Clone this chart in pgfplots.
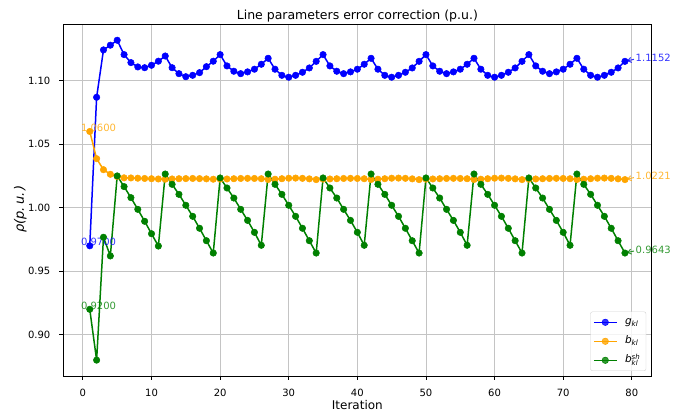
\documentclass[border=0pt]{standalone}
\usepackage{fontspec}
\setmainfont{DejaVu Sans}
\usepackage{pgfplots}
\usepackage{pgfplotstable}
\pgfplotsset{compat=1.18}
\usetikzlibrary{arrows.meta}
\definecolor{mblue}{HTML}{0000FF}
\definecolor{morange}{HTML}{FFA500}
\definecolor{mgreen}{HTML}{008000}
\definecolor{gridgray}{HTML}{C4C4C4}

\pgfplotstableread{
t g b s
1 0.9700 1.0600 0.9200
2 1.0869 1.0386 0.8800
3 1.1242 1.0299 0.9767
4 1.1279 1.0263 0.9620
5 1.1318 1.0245 1.0250
6 1.1205 1.0235 1.0166
7 1.1142 1.0234 1.0079
8 1.1108 1.0232 0.9987
9 1.1102 1.0230 0.9893
10 1.1121 1.0228 0.9795
11 1.1153 1.0226 0.9698
12 1.1194 1.0224 1.0265
13 1.1102 1.0226 1.0184
14 1.1055 1.0228 1.0105
15 1.1031 1.0229 1.0019
16 1.1042 1.0230 0.9932
17 1.1063 1.0229 0.9838
18 1.1110 1.0227 0.9740
19 1.1153 1.0224 0.9643
20 1.1205 1.0225 1.0234
21 1.1116 1.0226 1.0155
22 1.1074 1.0228 1.0076
23 1.1055 1.0230 0.9987
24 1.1069 1.0231 0.9900
25 1.1090 1.0230 0.9806
26 1.1129 1.0228 0.9704
27 1.1176 1.0222 1.0265
28 1.1090 1.0224 1.0184
29 1.1042 1.0228 1.0105
30 1.1027 1.0232 1.0019
31 1.1042 1.0233 0.9932
32 1.1066 1.0231 0.9838
33 1.1100 1.0227 0.9740
34 1.1152 1.0221 0.9643
35 1.1205 1.0225 1.0234
36 1.1116 1.0226 1.0155
37 1.1074 1.0228 1.0076
38 1.1055 1.0230 0.9987
39 1.1069 1.0231 0.9900
40 1.1090 1.0230 0.9806
41 1.1129 1.0228 0.9704
42 1.1176 1.0222 1.0265
43 1.1090 1.0224 1.0184
44 1.1042 1.0228 1.0105
45 1.1027 1.0232 1.0019
46 1.1042 1.0233 0.9932
47 1.1066 1.0231 0.9838
48 1.1100 1.0227 0.9740
49 1.1152 1.0221 0.9643
50 1.1205 1.0225 1.0234
51 1.1116 1.0226 1.0155
52 1.1074 1.0228 1.0076
53 1.1055 1.0230 0.9987
54 1.1069 1.0231 0.9900
55 1.1090 1.0230 0.9806
56 1.1129 1.0228 0.9704
57 1.1176 1.0222 1.0265
58 1.1090 1.0224 1.0184
59 1.1042 1.0228 1.0105
60 1.1027 1.0232 1.0019
61 1.1042 1.0233 0.9932
62 1.1066 1.0231 0.9838
63 1.1100 1.0227 0.9740
64 1.1152 1.0221 0.9643
65 1.1205 1.0225 1.0234
66 1.1116 1.0226 1.0155
67 1.1074 1.0228 1.0076
68 1.1055 1.0230 0.9987
69 1.1069 1.0231 0.9900
70 1.1090 1.0230 0.9806
71 1.1129 1.0228 0.9704
72 1.1176 1.0222 1.0265
73 1.1090 1.0224 1.0184
74 1.1042 1.0228 1.0105
75 1.1027 1.0232 1.0019
76 1.1042 1.0233 0.9932
77 1.1066 1.0231 0.9838
78 1.1100 1.0227 0.9740
79 1.1152 1.0221 0.9643
}\data

\newcommand{\shkl}{{\fontsize{7}{8}\selectfont\rlap{\raisebox{3.6pt}{sh}}\raisebox{-2.6pt}{kl}}}

\begin{document}
\begin{tikzpicture}
\useasboundingbox (-63pt,-39pt) rectangle (633pt,376pt);
\begin{axis}[
  scale only axis,
  clip=false,
  width=588.7pt, height=352pt,
  xmin=-2.9, xmax=82.9,
  ymin=0.8675, ymax=1.1446,
  xtick={0,10,...,80},
  ytick={0.90,0.95,1.00,1.05,1.10},
  yticklabel style={/pgf/number format/fixed, /pgf/number format/fixed zerofill, /pgf/number format/precision=2},
  /pgf/number format/assume math mode=true,
  ticklabel style={font=\fontsize{10}{12}\selectfont, inner sep=0pt},
  xticklabel style={anchor=base, yshift=-17pt},
  yticklabel style={anchor=east, xshift=-9pt},
  tick align=outside,
  tick pos=left,
  major tick length=3.5pt,
  tick style={black, line width=0.8pt},
  axis line style={black, line width=0.8pt},
  grid=major,
  major grid style={gridgray, line width=0.8pt},
  legend style={
    at={(rel axis cs:1,0)}, anchor=south east, xshift=-5.5pt, yshift=5pt,
    draw=black!18, rounded corners=2pt, fill=white, fill opacity=0.8,
    text opacity=1, draw opacity=1,
    font=\fontsize{10.5}{12}\selectfont,
    inner xsep=2.5pt, inner ysep=5pt,
    row sep=8pt, column sep=7.5pt,
    nodes={inner sep=0pt, text height=8pt, text depth=3pt},
  },
  legend cell align=left,
  legend image code/.code={
    \draw[#1, mark=none] (0pt,0pt) -- (23pt,0pt);
    \draw[#1, only marks] plot coordinates {(11.5pt,0pt)};
  },
]
\addplot[mblue, line width=1.5pt, mark=*, mark size=3.25pt, mark options={solid, line width=0.5pt}] table[x=t,y=g] {\data};
\addlegendentry{{\itshape g\textsubscript{kl}}\hspace*{5pt}}
\addplot[morange, line width=1.5pt, mark=*, mark size=3.25pt, mark options={solid, line width=0.5pt}] table[x=t,y=b] {\data};
\addlegendentry{{\itshape b\textsubscript{kl}}\hspace*{5pt}}
\addplot[mgreen, line width=1.5pt, mark=*, mark size=3.25pt, mark options={solid, line width=0.5pt}] table[x=t,y=s] {\data};
\addlegendentry{{\itshape b\shkl}\hspace*{5pt}}

\tikzset{ann/.style={anchor=base west, inner sep=0pt, font=\fontsize{10}{12}\selectfont, text opacity=0.8}}
\node[ann, text=morange] at ([xshift=-8.9pt]axis cs:1,1.0600) {1.0600};
\node[ann, text=mblue] at ([xshift=-8.9pt]axis cs:1,0.9700) {0.9700};
\node[ann, text=mgreen] at ([xshift=-8.9pt]axis cs:1,0.9200) {0.9200};

\node[ann, text=mblue] at ([xshift=10.6pt]axis cs:79,1.1152) {1.1152};
\node[ann, text=morange] at ([xshift=10.6pt]axis cs:79,1.0221) {1.0221};
\node[ann, text=mgreen] at ([xshift=10.6pt]axis cs:79,0.9643) {0.9643};
\draw[mblue, opacity=0.8, line width=1pt, -{Straight Barb[length=3.5pt,width=5pt]}, shorten >=2pt] ([xshift=9pt,yshift=2pt]axis cs:79,1.1152) -- (axis cs:79,1.1152);
\draw[morange, opacity=0.8, line width=1pt, -{Straight Barb[length=3.5pt,width=5pt]}, shorten >=2pt] ([xshift=9pt,yshift=2pt]axis cs:79,1.0221) -- (axis cs:79,1.0221);
\draw[mgreen, opacity=0.8, line width=1pt, -{Straight Barb[length=3.5pt,width=5pt]}, shorten >=2pt] ([xshift=9pt,yshift=2pt]axis cs:79,0.9643) -- (axis cs:79,0.9643);
\end{axis}
\node[anchor=base, font=\fontsize{12.5}{15}\selectfont] at ([yshift=4pt]current axis.north) {Line parameters error correction (p.u.)};
\node[anchor=base, font=\fontsize{12}{14}\selectfont] at ([yshift=-33.3pt]current axis.south) {Iteration};
\node[anchor=base, rotate=90, font=\fontsize{13}{15}\selectfont\itshape] at ([xshift=-39pt,yshift=-9pt]current axis.west) {ρ(p.\,u.\,)};
\end{tikzpicture}
\end{document}
